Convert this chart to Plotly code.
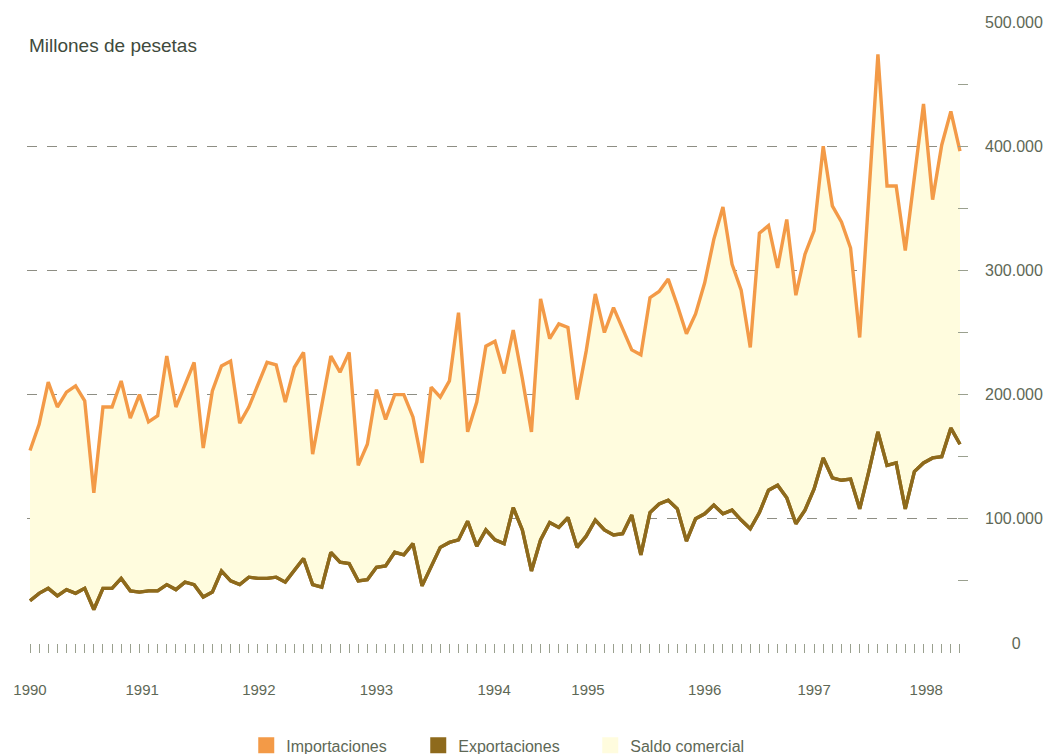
import plotly.graph_objects as go

# Comercio exterior mensual, enero 1990 - julio 1998 (millones de pesetas)
importaciones = [
    155000, 176000, 210000, 190000, 202000, 207000, 195000, 121000, 190000, 190000, 211000, 181000,
    200000, 178000, 183000, 231000, 190000, 208000, 226000, 157000, 203000, 223000, 227000, 177000,
    190000, 208000, 226000, 224000, 194000, 222000, 234000, 152000, 192000, 231000, 218000, 234000,
    143000, 160000, 204000, 180000, 200000, 200000, 182000, 145000, 206000, 198000, 211000, 266000,
    170000, 194000, 239000, 243000, 217000, 252000, 213000, 170000, 277000, 245000, 257000, 254000,
    196000, 235000, 281000, 250000, 270000, 253000, 236000, 232000, 278000, 283000, 293000, 272000,
    249000, 265000, 290000, 325000, 351000, 305000, 284000, 238000, 330000, 336000, 302000, 341000,
    280000, 313000, 332000, 400000, 352000, 339000, 318000, 246000, 360000, 474000, 368000, 368000,
    316000, 377000, 434000, 357000, 401000, 428000, 396000,
]
exportaciones = [
    34000, 40000, 44000, 38000, 43000, 40000, 44000, 27000, 44000, 44000, 52000, 42000,
    41000, 42000, 42000, 47000, 43000, 49000, 47000, 37000, 41000, 58000, 50000, 47000,
    53000, 52000, 52000, 53000, 49000, 59000, 68000, 47000, 45000, 73000, 65000, 64000,
    50000, 51000, 61000, 62000, 73000, 71000, 80000, 46000, 62000, 77000, 81000, 83000,
    98000, 78000, 91000, 83000, 80000, 109000, 91000, 58000, 83000, 97000, 93000, 101000,
    77000, 86000, 99000, 91000, 87000, 88000, 103000, 71000, 105000, 112000, 115000, 108000,
    82000, 100000, 104000, 111000, 104000, 107000, 99000, 92000, 105000, 123000, 127000, 117000,
    96000, 107000, 124000, 149000, 133000, 131000, 132000, 108000, 138000, 170000, 143000, 145000,
    108000, 138000, 145000, 149000, 150000, 173000, 160000,
]

# Rótulos de años y su posición (índice de mes) en el eje horizontal
anios = ["1990", "1991", "1992", "1993", "1994", "1995", "1996", "1997", "1998"]
pos_anios = [0, 12.3, 25.1, 38.0, 50.9, 61.2, 74.0, 86.0, 98.3]

# Eje vertical
valores_y = [0, 100000, 200000, 300000, 400000, 500000]
rotulos_y = ["\u2007\u2007\u20070", "100.000", "200.000", "300.000", "400.000", "500.000"]
rejilla_y = [100000, 200000, 300000, 400000]

meses = list(range(len(importaciones)))

C_IMP = "#F39A47"
C_EXP = "#8E6A1C"
C_SALDO = "#FFFCDE"
C_TEXTO = "#5E6856"
FUENTE = "Liberation Sans, Arial, sans-serif"

fig = go.Figure()

fig.add_trace(go.Scatter(
    x=meses, y=exportaciones, mode="lines",
    line=dict(color=C_EXP, width=3.4), showlegend=False, hoverinfo="skip",
))
fig.add_trace(go.Scatter(
    x=meses, y=importaciones, mode="lines", fill="tonexty", fillcolor=C_SALDO,
    line=dict(color=C_IMP, width=3.4), showlegend=False, hoverinfo="skip",
))
# Exportaciones redibujadas por encima del relleno
fig.add_trace(go.Scatter(
    x=meses, y=exportaciones, mode="lines",
    line=dict(color=C_EXP, width=3.4), showlegend=False, hoverinfo="skip",
))

# Entradas de la leyenda (cuadrados de color)
for nombre, color in [("Importaciones", C_IMP), ("Exportaciones", C_EXP), ("Saldo comercial", C_SALDO)]:
    fig.add_trace(go.Scatter(
        x=[None], y=[None], mode="markers", name=nombre,
        marker=dict(symbol="square", size=18, color=color, line=dict(width=0)),
    ))

# Serie invisible para activar los ejes auxiliares
fig.add_trace(go.Scatter(x=[None], y=[None], xaxis="x2", yaxis="y2", showlegend=False))

fig.update_layout(
    width=1048, height=754,
    margin=dict(l=27, r=80, t=22, b=111, autoexpand=False),
    paper_bgcolor="white", plot_bgcolor="white",
    font=dict(family=FUENTE, size=15, color=C_TEXTO),
    xaxis=dict(
        range=[-0.33, 102.88], tickvals=meses, ticktext=[""] * len(meses),
        ticks="outside", ticklen=9, tickwidth=1, tickcolor="#9AA08F",
        showgrid=False, zeroline=False, showline=False, fixedrange=True, automargin=False,
    ),
    xaxis2=dict(
        range=[-0.33, 102.88], overlaying="x", anchor="y", side="bottom",
        tickvals=pos_anios, ticktext=anios, ticks="", ticklabelstandoff=36,
        tickfont=dict(size=15, color=C_TEXTO), automargin=False,
        showgrid=False, zeroline=False, showline=False,
    ),
    yaxis=dict(
        range=[0, 500000], side="right", tickvals=valores_y, ticktext=rotulos_y,
        ticks="inside", ticklen=10, tickwidth=1, tickcolor="#9AA08F",
        minor=dict(tickvals=[50000, 150000, 250000, 350000, 450000], ticks="inside",
                   ticklen=10, tickwidth=1, tickcolor="#9AA08F", showgrid=False),
        tickfont=dict(size=16, color=C_TEXTO), ticklabelstandoff=16, automargin=False,
        showgrid=False, zeroline=False, showline=False,
    ),
    yaxis2=dict(
        range=[0, 500000], overlaying="y", side="right", tickvals=rejilla_y,
        showticklabels=False, ticks="", showgrid=True, gridcolor="#8E8E84",
        gridwidth=1, griddash="10px,10px", zeroline=False, showline=False, automargin=False,
    ),
    legend=dict(
        orientation="h", x=0.233, xanchor="left", y=-0.165, yanchor="middle",
        entrywidth=127, entrywidthmode="pixels", itemwidth=30, traceorder="normal",
        font=dict(size=16, color=C_TEXTO), bgcolor="rgba(0,0,0,0)",
    ),
    annotations=[dict(
        text="Millones de pesetas", xref="paper", yref="paper", x=0.0, y=0.962,
        xanchor="left", yanchor="middle", showarrow=False,
        font=dict(size=19, color="#3E4A3C", family=FUENTE),
    )],
)

fig.write_html("out.html")
